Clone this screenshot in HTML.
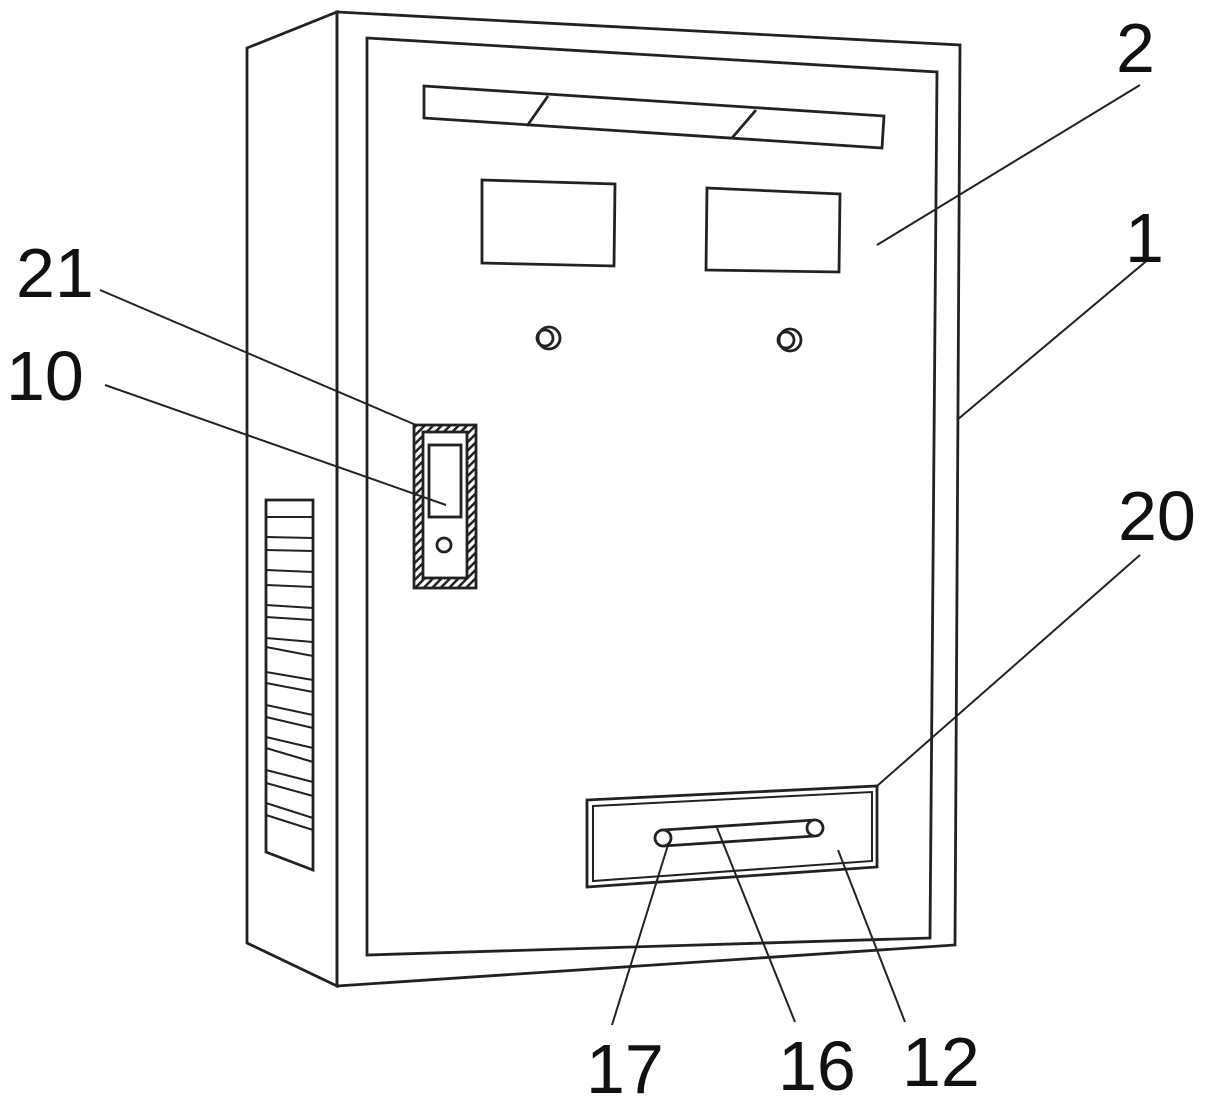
<!DOCTYPE html>
<html><head><style>body{margin:0;background:#fff}svg{display:block}text{font-family:"Liberation Sans",sans-serif;font-size:70px;fill:#111}</style></head><body>
<svg width="1216" height="1105" viewBox="0 0 1216 1105">
<defs><pattern id="h" width="6" height="6" patternUnits="userSpaceOnUse" patternTransform="rotate(45)"><rect width="6" height="6" fill="#fff"/><rect width="2.5" height="6" fill="#222"/></pattern></defs>
<g fill="none" stroke="#222" stroke-width="2.8">
<polygon points="247,48 337,12 337,986 247,943"/>
<polygon points="337,12 960,45 955,945 337,986"/>
<polygon points="367,38 937,72 930,938 367,955"/>
<polygon points="424,86 884,116 882,148 424,118"/>
<line x1="548" y1="96" x2="527" y2="126"/><line x1="756" y1="110" x2="732" y2="138"/>
<polygon points="482,180 615,184 614,266 482,263"/>
<polygon points="707,188 840,194 839,272 706,270"/>
<circle cx="549" cy="338" r="11"/><circle cx="545" cy="338" r="8"/>
<circle cx="790" cy="340" r="11"/><circle cx="786" cy="340" r="8"/>
<rect x="414" y="425" width="62" height="163" fill="url(#h)"/>
<rect x="423" y="432" width="44" height="146" fill="#fff"/>
<rect x="429" y="445" width="32" height="72"/>
<circle cx="444" cy="545" r="7"/>
<polygon points="266,500 313,500 313,870 266,852"/>
<g stroke-width="2">
<line x1="266" y1="517" x2="313" y2="517"/><line x1="266" y1="537" x2="313" y2="538"/><line x1="266" y1="550" x2="313" y2="551"/>
<line x1="266" y1="570" x2="313" y2="572"/><line x1="266" y1="585" x2="313" y2="587"/><line x1="266" y1="605" x2="313" y2="608"/>
<line x1="266" y1="617" x2="313" y2="620"/><line x1="266" y1="638" x2="313" y2="642"/><line x1="266" y1="647" x2="313" y2="656"/>
<line x1="266" y1="672" x2="313" y2="680"/><line x1="266" y1="683" x2="313" y2="692"/><line x1="266" y1="705" x2="313" y2="715"/>
<line x1="266" y1="717" x2="313" y2="728"/><line x1="266" y1="737" x2="313" y2="748"/><line x1="266" y1="748" x2="313" y2="762"/>
<line x1="266" y1="770" x2="313" y2="782"/><line x1="266" y1="783" x2="313" y2="796"/><line x1="266" y1="803" x2="313" y2="818"/>
<line x1="266" y1="815" x2="313" y2="830"/></g>
<polygon points="587,800 877,786 877,867 587,887"/>
<polygon points="593,806 872,792 872,861 593,881" stroke-width="2"/>
<line x1="663" y1="830" x2="815" y2="820"/><line x1="663" y1="846" x2="815" y2="836"/>
<circle cx="663" cy="838" r="8" fill="#fff"/><circle cx="815" cy="828" r="8" fill="#fff"/>
<g stroke-width="2">
<line x1="1140" y1="85" x2="877" y2="245"/><line x1="1150" y1="258" x2="957" y2="420"/>
<line x1="100" y1="290" x2="416" y2="425"/><line x1="105" y1="385" x2="446" y2="505"/>
<line x1="1140" y1="555" x2="877" y2="786"/><line x1="668" y1="845" x2="612" y2="1025"/>
<line x1="717" y1="828" x2="795" y2="1022"/><line x1="838" y1="850" x2="905" y2="1022"/></g>
</g>
<text x="1116" y="72">2</text><text x="1125" y="262">1</text>
<text x="16" y="297">21</text><text x="6" y="400">10</text>
<text x="1118" y="540">20</text>
<text x="586" y="1093">17</text><text x="778" y="1090">16</text><text x="902" y="1086">12</text>
</svg>
</body></html>
